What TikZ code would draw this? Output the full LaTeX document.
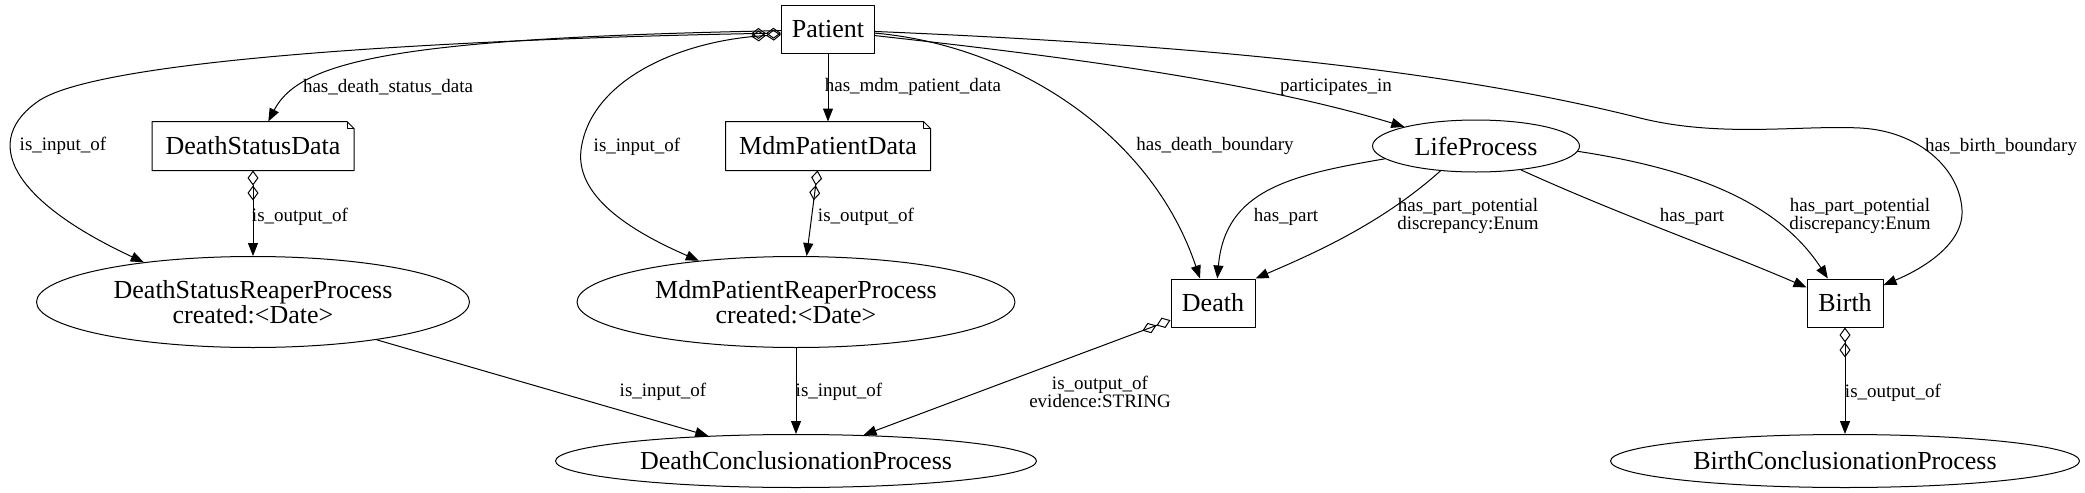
\documentclass[tikz,border=0pt]{standalone}
\usepackage{fontspec}
\setmainfont{Liberation Serif}
\usetikzlibrary{arrows.meta,shapes.geometric}
% folded corner for the data boxes
\newcommand{\notebox}[1]{%
  \draw (#1.north west) -- ([xshift=-3.5pt]#1.north east) -- ([yshift=-3.5pt]#1.north east) -- (#1.south east) -- (#1.south west) -- cycle;
  \draw ([xshift=-3.5pt]#1.north east) -- ++(0,-3.5pt) -- ([yshift=-3.5pt]#1.north east);}

\begin{document}
\begin{tikzpicture}[x=0.5pt, y=-0.5pt, line width=0.5pt, line join=round,
  box/.style={draw, rectangle, inner sep=0pt, minimum height=24pt, font=\fontsize{13}{12.5}\selectfont},
  datanote/.style={rectangle, inner sep=0pt, minimum height=24pt, font=\fontsize{13}{12.5}\selectfont},
  oval/.style={draw, ellipse, inner sep=0pt, align=center, font=\fontsize{13}{12.5}\selectfont},
  lbl/.style={inner sep=0pt, align=center, font=\fontsize{9.5}{9}\selectfont},
  rel/.style={-{Triangle[length=6.5pt,width=5pt]}},
  agg/.style={{Diamond[open,length=7.5pt,width=5.5pt]Diamond[open,length=7.5pt,width=5.5pt]}-{Triangle[length=6.5pt,width=5pt]}}]
  \useasboundingbox (0,0) rectangle (2085,493);

  % nodes
  \node[box, minimum width=46.5pt] (patient) at (828,29) {Patient};
  \node[datanote, minimum width=100.5pt] (dsd) at (253,146) {DeathStatusData};
  \node[datanote, minimum width=102pt] (mpd) at (828,146) {MdmPatientData};
  \notebox{dsd} \notebox{mpd}
  \node[oval, minimum width=216.5pt, minimum height=45.5pt] (dsrp) at (253,302) {DeathStatusReaperProcess\\created:\textless Date\textgreater};
  \node[oval, minimum width=219pt, minimum height=45.5pt] (mprp) at (796,302) {MdmPatientReaperProcess\\created:\textless Date\textgreater};
  \node[oval, minimum width=240.5pt, minimum height=26.5pt] (dcp) at (796,461) {DeathConclusionationProcess};
  \node[box, minimum width=42pt] (death) at (1213,303) {Death};
  \node[oval, minimum width=103.5pt, minimum height=26pt] (lp) at (1476,146) {LifeProcess};
  \node[box, minimum width=38pt] (birth) at (1845,303) {Birth};
  \node[oval, minimum width=234.5pt, minimum height=26.5pt] (bcp) at (1845,461) {BirthConclusionationProcess};

  % edges from Patient
  \draw[agg] (patient.185) .. controls (600,36) and (120,50) .. (40,100) .. controls (-20,140) and (10,200) .. (dsrp.160);
  \draw[rel] (patient.182) .. controls (400,38) and (300,60) .. (dsd.58);
  \draw[agg] (patient.187) .. controls (680,40) and (590,80) .. (581,150) .. controls (575,200) and (640,235) .. (mprp.157);
  \draw[rel] (patient.south) -- (mpd.north);
  \draw[rel] (patient.-5) .. controls (1010,45) and (1150,130) .. (death.118);
  \draw[rel] (patient.-8) .. controls (1050,55) and (1250,80) .. (lp.165);
  \draw[rel] (patient.-3) .. controls (1200,45) and (1450,70) .. (1640,118) .. controls (1720,138) and (1800,125) .. (1860,128)
    .. controls (1920,131) and (1960,170) .. (1962,210) .. controls (1964,245) and (1920,270) .. (birth.25);

  % data to reapers
  \draw[agg] (dsd.south) -- (dsrp.north);
  \draw[agg] (mpd.247) -- (mprp.77);

  % LifeProcess parts
  \draw[rel] (lp.188) .. controls (1290,175) and (1225,190) .. (death.80);
  \draw[rel] (lp.215) .. controls (1380,225) and (1310,255) .. (death.north east);
  \draw[rel] (lp.-28) .. controls (1620,215) and (1720,250) .. (birth.158);
  \draw[rel] (lp.-3) .. controls (1700,170) and (1780,205) .. (birth.125);

  % conclusions
  \draw[rel] (dsrp.-17) -- (dcp.164);
  \draw[rel] (mprp.south) -- (dcp.north);
  \draw[agg] (death.202) -- (dcp.21);
  \draw[agg] (birth.south) -- (bcp.north);

  % labels
  \node[lbl] (l1) at (63,146) {is\_input\_of};
  \node[lbl] (l2) at (388,87) {has\_death\_status\_data};
  \node[lbl] (l3) at (637,147) {is\_input\_of};
  \node[lbl] (l4) at (913,87) {has\_mdm\_patient\_data};
  \node[lbl] (l5) at (300,217) {is\_output\_of};
  \node[lbl] (l6) at (866,217) {is\_output\_of};
  \node[lbl] (l7) at (1215,146) {has\_death\_boundary};
  \node[lbl] (l8) at (1336,87) {participates\_in};
  \node[lbl] (l9) at (2001,147) {has\_birth\_boundary};
  \node[lbl] (l10) at (1286,217) {has\_part};
  \node[lbl] (l11) at (1468,216) {has\_part\_potential\\discrepancy:Enum};
  \node[lbl] (l12) at (1692,217) {has\_part};
  \node[lbl] (l13) at (1860,216) {has\_part\_potential\\discrepancy:Enum};
  \node[lbl] (l14) at (1100,392) {is\_output\_of\\evidence:STRING};
  \node[lbl] (l15) at (663,392) {is\_input\_of};
  \node[lbl] (l16) at (839,392) {is\_input\_of};
  \node[lbl] (l17) at (1893,393) {is\_output\_of};
\end{tikzpicture}
\end{document}
